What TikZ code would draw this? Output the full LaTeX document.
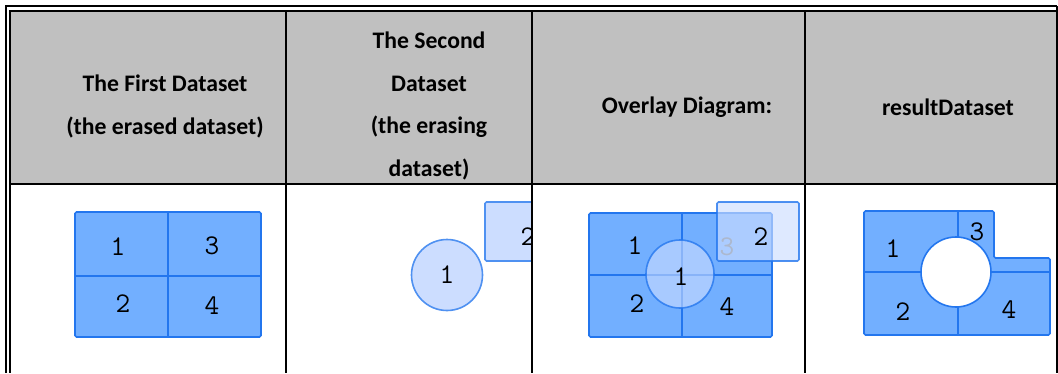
\documentclass[tikz,border=0pt]{standalone}
\usepackage{fontspec}
\newfontfamily\hdrfont{Carlito}
\begin{document}
\begin{tikzpicture}[x=1pt,y=-1pt,
  hdr/.style={font=\hdrfont\bfseries\fontsize{23.7}{42.5}\selectfont,align=center,text=black,inner sep=0pt},
  lbl/.style={font=\ttfamily\fontsize{28.5}{28.5}\selectfont,text=black,inner sep=0pt},
  grid/.style={fill=gridblue,draw=edgeblue,line width=1.6pt,rounded corners=1.5pt},
  inner/.style={draw=edgeblue,line width=1.6pt},
  light/.style={fill=lightblue,draw=edgeblue!80,line width=1.6pt},
  rule/.style={draw=black,line width=2pt},
  thinrule/.style={draw=black,line width=1.5pt}]
\definecolor{gridblue}{RGB}{114,175,255}
\definecolor{edgeblue}{RGB}{35,118,238}
\definecolor{lightblue}{RGB}{204,221,255}
\definecolor{hdrgray}{RGB}{192,192,192}
\useasboundingbox (0,0) rectangle (1058,373);
% header background
\fill[hdrgray] (10,11) rectangle (1057,184);
% header texts
\node[hdr] (h1) at (165,106.5) {The First Dataset\\(the erased dataset)};
\node[hdr] (h2) at (429,106) {The Second\\Dataset\\(the erasing\\dataset)};
\node[hdr] (h3) at (687,107) {Overlay Diagram:};
\node[hdr] (h4) at (948,107) {resultDataset};
% column 1: first dataset
\path[grid] (75,212) rectangle (261,337);
\draw[inner] (168,212) -- (168,337);
\draw[inner] (75,276) -- (261,276);
\node[lbl] (a1) at (118,247) {1};
\node[lbl] (a3) at (212,246) {3};
\node[lbl] (a2) at (123,304) {2};
\node[lbl] (a4) at (212,306) {4};
% column 2: second dataset
\begin{scope}
\clip (287,185) rectangle (531,373);
\path[light,rounded corners=1.5pt] (485,202) rectangle (567,261);
\node[lbl] (b2) at (528,237) {2};
\end{scope}
\path[light] (447,275) circle (35.5);
\node[lbl] (b1) at (447,275) {1};
% column 3: overlay
\path[grid] (589,213) rectangle (772,337);
\draw[inner] (682,213) -- (682,337);
\draw[inner] (589,275) -- (772,275);
\node[lbl] (c1) at (635,246) {1};
\node[lbl] (c2) at (637,304) {2};
\node[lbl] (c4) at (727,307) {4};
\node[lbl,text=black!55] (c3) at (727,247) {3};
\path[fill=lightblue,fill opacity=0.6,draw=edgeblue,draw opacity=0.8,line width=1.6pt] (680,274) circle (34);
\node[lbl] (c5) at (681,277) {1};
\path[fill=lightblue,fill opacity=0.65,draw=edgeblue,draw opacity=0.8,line width=1.6pt,rounded corners=1.5pt] (717,202) rectangle (799,261);
\node[lbl] (c6) at (761,237) {2};
% column 4: result
\path[grid] (864,211) -- (994,211) -- (994,258) -- (1050,258) -- (1050,335) -- (864,335) -- cycle;
\draw[inner] (958,211) -- (958,335);
\draw[inner] (864,272) -- (1050,272);
\path[fill=white,draw=edgeblue,line width=1.6pt] (956,272) circle (35);
\node[lbl] (d1) at (893,249) {1};
\node[lbl] (d3) at (977,232) {3};
\node[lbl] (d2) at (903,312) {2};
\node[lbl] (d4) at (1009,310) {4};
% table rules
\draw[rule] (5,6) -- (1057,6);
\draw[rule] (6,5) -- (6,373);
\draw[thinrule] (10,11) -- (1057,11);
\draw[thinrule] (10,10.25) -- (10,373);
\draw[rule] (1056.5,6) -- (1056.5,373);
\draw[rule] (10,184) -- (1057,184);
\draw[rule] (286,11) -- (286,373);
\draw[rule] (532,11) -- (532,373);
\draw[rule] (805,11) -- (805,373);
\end{tikzpicture}
\end{document}
